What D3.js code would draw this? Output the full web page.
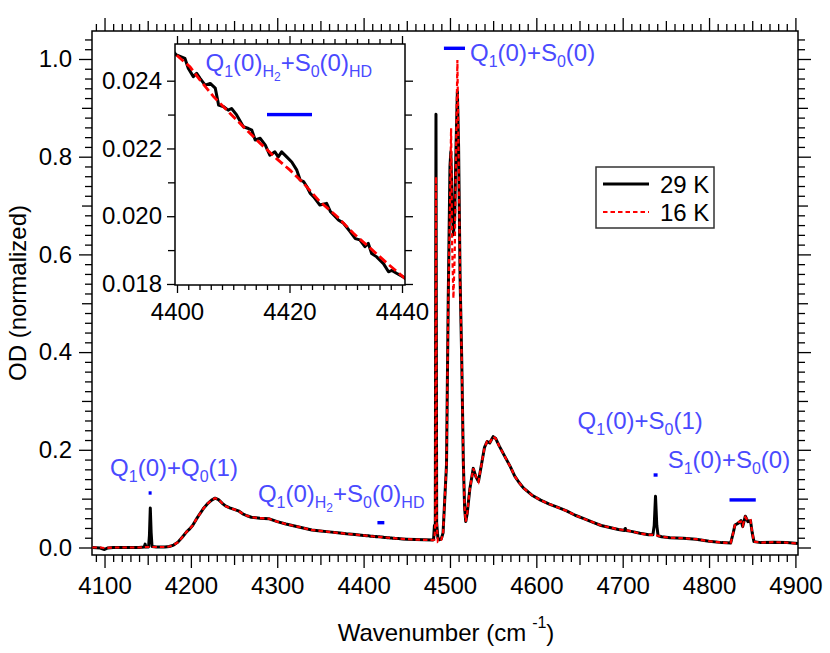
<!DOCTYPE html>
<html>
<head>
<meta charset="utf-8">
<script src="https://cdn.jsdelivr.net/npm/d3@7"></script>
<style>
	body { margin: 0; background: #fff; }
	text { font-family: "Liberation Sans", Arial, sans-serif; }
</style>
</head>
<body>
<svg id="chart" width="830" height="653"></svg>
<script>
//29 K spectrum (black)
var wn29 = [4086, 4095, 4100, 4104, 4110, 4120, 4130, 4140, 4146, 4147, 4148, 4151, 4152, 4153, 4154, 4155,
	4160, 4170, 4175, 4180, 4185, 4190, 4195, 4198, 4202, 4206, 4210, 4215, 4220, 4224, 4228, 4232, 4236,
	4240, 4245, 4250, 4255, 4260, 4265, 4270, 4280, 4290, 4295, 4300, 4310, 4320, 4330, 4340, 4350, 4360,
	4370, 4380, 4390, 4395,
	4399.9, 4401.4, 4402, 4402.9, 4403.5, 4404.1, 4405, 4405.9, 4406.8, 4407.4, 4408.3, 4409.1, 4409.7,
	4410.6, 4411.8, 4412.7, 4413.3, 4413.9, 4414.8, 4415.7, 4416.5, 4417.4, 4418, 4418.6, 4419.5, 4420.4,
	4421.3, 4421.9, 4422.5, 4423.1, 4423.7, 4424.3, 4425.4, 4426.6, 4427.3, 4428.7, 4429.6, 4430.8, 4431.7,
	4432.5, 4433.4, 4434, 4434.6, 4435.5, 4436.7, 4437.6, 4438.2, 4439.1, 4440.2,
	4445, 4450, 4460, 4470, 4480, 4481, 4482, 4483, 4483.8, 4484.6, 4486, 4488, 4490, 4492, 4494, 4496,
	4498, 4500, 4501, 4502.5, 4504, 4505.5, 4507, 4508.6, 4510, 4511.7, 4513.7, 4515.5, 4517, 4518.3,
	4520, 4523, 4527, 4530, 4533, 4537, 4540, 4543, 4546, 4550, 4553, 4557, 4563, 4570, 4575, 4580, 4585,
	4595, 4605, 4615, 4625, 4635, 4645, 4655, 4665, 4675, 4685, 4695, 4702, 4703, 4704, 4710, 4720, 4730,
	4735, 4736.5, 4738, 4739.5, 4741, 4745, 4755, 4770, 4785, 4800, 4815, 4825, 4828, 4830, 4834, 4837,
	4839, 4842, 4845, 4848, 4850, 4852, 4860, 4875, 4890, 4903];
var od29 = [0.000, -0.001, -0.004, -0.001, 0.000, 0.000, 0.000, 0.000, 0.001, 0.007, 0.001, 0.001, 0.025, 0.081, 0.030, 0.002,
	0.001, 0.001, 0.002, 0.005, 0.011, 0.021, 0.032, 0.037, 0.045, 0.057, 0.068, 0.081, 0.091, 0.097, 0.101, 0.098, 0.091,
	0.085, 0.081, 0.078, 0.075, 0.069, 0.065, 0.062, 0.060, 0.059, 0.056, 0.053, 0.048, 0.044, 0.040, 0.036, 0.034, 0.032,
	0.030, 0.028, 0.0264, 0.0256,
	0.02476, 0.02466, 0.02437, 0.02412, 0.02422, 0.02407, 0.02387, 0.02392, 0.02378, 0.02328, 0.02323, 0.02313, 0.02318,
	0.02299, 0.02264, 0.02259, 0.02254, 0.02225, 0.02230, 0.02210, 0.02180, 0.02190, 0.02175, 0.02190, 0.02175, 0.02160,
	0.02136, 0.02107, 0.02102, 0.02087, 0.02067, 0.02057, 0.02033, 0.02038, 0.02013, 0.01989, 0.01979, 0.01954, 0.01934,
	0.01930, 0.01910, 0.01920, 0.01890, 0.01880, 0.01860, 0.01836, 0.01840, 0.01831, 0.01821,
	0.0176, 0.0171, 0.0163, 0.0157, 0.0152, 0.016, 0.045, 0.030, 0.887, 0.050, 0.020, 0.016, 0.018, 0.030, 0.100, 0.170,
	0.510, 0.780, 0.810, 0.700, 0.640, 0.680, 0.820, 0.933, 0.820, 0.554, 0.377, 0.173, 0.080, 0.053,
	0.070, 0.120, 0.162, 0.145, 0.135, 0.175, 0.205, 0.217, 0.214, 0.227, 0.223, 0.208, 0.188, 0.165, 0.146, 0.133, 0.122,
	0.107, 0.097, 0.089, 0.082, 0.075, 0.066, 0.059, 0.052, 0.045, 0.041, 0.037, 0.035, 0.039, 0.035, 0.033, 0.029, 0.026,
	0.026, 0.045, 0.105, 0.045, 0.024, 0.022, 0.020, 0.019, 0.017, 0.013, 0.010, 0.009, 0.030, 0.046, 0.050, 0.055,
	0.043, 0.064, 0.053, 0.055, 0.030, 0.012, 0.010, 0.011, 0.010, 0.008];

//16 K spectrum (red)
var wn16 = [4086, 4095, 4100, 4110, 4120, 4130, 4140, 4150, 4155,
	4160, 4170, 4175, 4180, 4185, 4190, 4195, 4198, 4202, 4206, 4210, 4215, 4220, 4224, 4228, 4232, 4236,
	4240, 4245, 4250, 4255, 4260, 4265, 4270, 4280, 4290, 4295, 4300, 4310, 4320, 4330, 4340, 4350, 4360,
	4370, 4380, 4390, 4395,
	4399.9, 4402.3, 4404.1, 4406.5, 4409.4, 4412.4, 4414.8, 4417.7, 4420.1, 4422.5, 4425.4, 4428.4, 4431.4,
	4434.4, 4437.3, 4440.2,
	4445, 4450, 4460, 4470, 4480, 4482, 4483, 4483.8, 4484.6, 4486, 4488, 4490, 4492, 4494, 4496,
	4498, 4500, 4501.3, 4502.5, 4504, 4505.5, 4507, 4508.6, 4510, 4511.7, 4513.7, 4515.5, 4517, 4518.3,
	4520, 4523, 4527, 4530, 4533, 4537, 4540, 4543, 4546, 4550, 4553, 4557, 4563, 4570, 4575, 4580, 4585,
	4595, 4605, 4615, 4625, 4635, 4645, 4655, 4665, 4675, 4685, 4695, 4705, 4710, 4720, 4730,
	4735, 4738, 4741, 4745, 4755, 4770, 4785, 4800, 4815, 4825, 4828, 4830, 4834, 4837,
	4839, 4842, 4845, 4848, 4850, 4852, 4860, 4875, 4890, 4903];
var od16 = [0.000, 0.000, -0.001, 0.000, 0.000, 0.000, 0.000, 0.001, 0.001,
	0.001, 0.001, 0.002, 0.005, 0.011, 0.021, 0.032, 0.037, 0.045, 0.057, 0.068, 0.081, 0.091, 0.097, 0.101, 0.098, 0.091,
	0.085, 0.081, 0.078, 0.075, 0.069, 0.065, 0.062, 0.060, 0.059, 0.056, 0.053, 0.048, 0.044, 0.040, 0.036, 0.034, 0.032,
	0.030, 0.028, 0.0264, 0.0256,
	0.02476, 0.02441, 0.02402, 0.02353, 0.02304, 0.02254, 0.02215, 0.02170, 0.02136, 0.02097, 0.02043, 0.02000, 0.01949,
	0.01905, 0.01862, 0.01821,
	0.0176, 0.0171, 0.0163, 0.0157, 0.0152, 0.016, 0.050, 0.759, 0.050, 0.012, 0.014, 0.016, 0.028, 0.100, 0.170,
	0.500, 0.700, 0.858, 0.620, 0.510, 0.600, 0.800, 0.998, 0.800, 0.554, 0.377, 0.173, 0.080, 0.053,
	0.070, 0.120, 0.162, 0.145, 0.135, 0.175, 0.205, 0.217, 0.214, 0.227, 0.223, 0.208, 0.188, 0.165, 0.146, 0.133, 0.122,
	0.107, 0.097, 0.089, 0.082, 0.075, 0.066, 0.059, 0.052, 0.045, 0.041, 0.037, 0.035, 0.033, 0.029, 0.026,
	0.026, 0.025, 0.024, 0.022, 0.020, 0.019, 0.017, 0.013, 0.010, 0.009, 0.030, 0.046, 0.052, 0.053,
	0.045, 0.062, 0.055, 0.056, 0.030, 0.012, 0.010, 0.011, 0.010, 0.008];

var seriesNames = ['29 K', '16 K'];

//tick labels
var mainXTicks = [4100, 4200, 4300, 4400, 4500, 4600, 4700, 4800, 4900];
var mainYTicks = [0.0, 0.2, 0.4, 0.6, 0.8, 1.0];
var insetXTicks = [4400, 4420, 4440];
var insetYTicks = [0.018, 0.020, 0.022, 0.024];

//transition markers: [low wavenumber, high wavenumber, OD level]
var markerLo = [4152.2, 4416, 4493, 4735.8, 4823.7];
var markerHi = [4153.4, 4424, 4517.4, 4740.4, 4854.1];
var markerOd = [0.1116, 0.0508, 1.0219, 0.1484, 0.0974];
//label segments: [text, level] level 0 normal, 1 subscript, 2 sub-subscript
var markerLabels = [
	[['Q', 0], ['1', 1], ['(0)+Q', 0], ['0', 1], ['(1)', 0]],
	[['Q', 0], ['1', 1], ['(0)', 0], ['H', 1], ['2', 2], ['+S', 0], ['0', 1], ['(0)', 0], ['HD', 1]],
	[['Q', 0], ['1', 1], ['(0)+S', 0], ['0', 1], ['(0)', 0]],
	[['Q', 0], ['1', 1], ['(0)+S', 0], ['0', 1], ['(1)', 0]],
	[['S', 0], ['1', 1], ['(0)+S', 0], ['0', 1], ['(0)', 0]]
];
var insetMarker = [4416, 4424, 0.0230];

var labelBlue = '#4a4aff';
var markBlue = '#0000ff';

var svg = d3.select('#chart');

//main plot area
var mL = 92, mR = 798, mT = 31, mB = 555;
var x = d3.scaleLinear().domain([4085.5, 4903]).range([mL, mR]);
var y = d3.scaleLinear().domain([-0.01535, 1.0573]).range([mB, mT]);

//inset area
var iL = 175, iR = 405, iT = 44, iB = 285;
var ix = d3.scaleLinear().domain([4399.644, 4440.533]).range([iL, iR]);
var iy = d3.scaleLinear().domain([0.01797, 0.025083]).range([iB, iT]);

var defs = svg.append('defs');
defs.append('clipPath').attr('id', 'mainClip')
	.append('rect').attr('x', mL).attr('y', mT).attr('width', mR - mL).attr('height', mB - mT);
defs.append('clipPath').attr('id', 'insetClip')
	.append('rect').attr('x', iL).attr('y', iT).attr('width', iR - iL).attr('height', iB - iT);

//draw tick set
function ticks(axisFn, scale, pos, vals, size, fmt, pad) {
	var g = svg.append('g')
		.attr('transform', pos)
		.call(axisFn(scale).tickValues(vals).tickSize(size).tickPadding(pad || 3)
			.tickFormat(fmt ? fmt : ''));
	g.select('.domain').remove();
	g.selectAll('line').attr('stroke', '#000').attr('stroke-width', 1.3);
	g.attr('font-size', 24).attr('font-family', '"Liberation Sans", Arial, sans-serif');
	g.selectAll('text').attr('fill', '#000');
	return g;
}

function notIn(list) {
	return function(v) { return !list.some(function(m) { return Math.abs(m - v) < 1e-6; }); };
}

//main axes
var xMed = d3.range(4150, 4900, 100);
var xMin = d3.range(4090, 4905, 10).filter(notIn(mainXTicks.concat(xMed)));
var yMed = [0.1, 0.3, 0.5, 0.7, 0.9];
var yMin = d3.range(0, 53).map(function(i) { return i * 0.02; }).filter(notIn(mainYTicks.concat(yMed)));

ticks(d3.axisBottom, x, `translate(0,${mB})`, mainXTicks, 13, d3.format('d'), 9);
ticks(d3.axisBottom, x, `translate(0,${mB})`, xMed, 10);
ticks(d3.axisBottom, x, `translate(0,${mB})`, xMin, 7);
ticks(d3.axisTop, x, `translate(0,${mT})`, mainXTicks, 13);
ticks(d3.axisTop, x, `translate(0,${mT})`, xMed, 10);
ticks(d3.axisTop, x, `translate(0,${mT})`, xMin, 7);
ticks(d3.axisLeft, y, `translate(${mL},0)`, mainYTicks, 13, d3.format('.1f'), 7);
ticks(d3.axisLeft, y, `translate(${mL},0)`, yMed, 10);
ticks(d3.axisLeft, y, `translate(${mL},0)`, yMin, 7);
ticks(d3.axisRight, y, `translate(${mR},0)`, mainYTicks, 13);
ticks(d3.axisRight, y, `translate(${mR},0)`, yMed, 10);
ticks(d3.axisRight, y, `translate(${mR},0)`, yMin, 7);

svg.append('rect').attr('x', mL).attr('y', mT).attr('width', mR - mL).attr('height', mB - mT)
	.attr('fill', 'none').attr('stroke', '#000').attr('stroke-width', 1.5);

//spectra
var d29 = wn29.map(function(w, i) { return [w, od29[i]]; });
var d16 = wn16.map(function(w, i) { return [w, od16[i]]; });

var mainLine = d3.line().x(function(d) { return x(d[0]); }).y(function(d) { return y(d[1]); });
var gMain = svg.append('g').attr('clip-path', 'url(#mainClip)');
gMain.append('path').datum(d29).attr('d', mainLine)
	.attr('fill', 'none').attr('stroke', '#000').attr('stroke-width', 3).attr('stroke-linejoin', 'round');
gMain.append('path').datum(d16).attr('d', mainLine)
	.attr('fill', 'none').attr('stroke', '#ff0000').attr('stroke-width', 2.2).attr('stroke-dasharray', '4.5,3');

//markers and labels in main plot
var labelOffsets = [[-40, -17], [-123, -21], [5, 13], [-78, -46], [-75, -32]];
function richText(px, py, segs) {
	var t = svg.append('text').attr('x', px).attr('y', py).attr('fill', labelBlue).style('font-size', '24px');
	var prev = 0;
	segs.forEach(function(s) {
		var off = [0, 6, 10][s[1]];
		var size = [24, 16, 12][s[1]];
		t.append('tspan').attr('dy', off - prev).style('font-size', size + 'px').text(s[0]);
		prev = off;
	});
}
markerLo.forEach(function(lo, i) {
	var x0 = x(lo), x1 = x(markerHi[i]);
	var w = Math.max(3, x1 - x0);
	var cx = (x0 + x1) / 2;
	var cy = y(markerOd[i]);
	svg.append('rect').attr('x', cx - w / 2).attr('y', cy - 1.7).attr('width', w).attr('height', 3.4)
		.attr('fill', markBlue);
	var anchorX = i === 2 ? x1 : cx;
	richText(anchorX + labelOffsets[i][0], cy + labelOffsets[i][1], markerLabels[i]);
});

//legend
var leg = svg.append('g').attr('transform', 'translate(596,167)');
leg.append('rect').attr('width', 118).attr('height', 61)
	.attr('fill', '#fff').attr('stroke', '#333').attr('stroke-width', 1.5);
leg.append('line').attr('x1', 7).attr('x2', 53).attr('y1', 17).attr('y2', 17)
	.attr('stroke', '#000').attr('stroke-width', 3);
leg.append('line').attr('x1', 7).attr('x2', 53).attr('y1', 45).attr('y2', 45)
	.attr('stroke', '#ff0000').attr('stroke-width', 2.2).attr('stroke-dasharray', '4.5,3');
leg.selectAll('text.lg').data(seriesNames).join('text')
	.attr('x', 64).attr('y', function(d, i) { return 26 + i * 28; })
	.style('font-size', '24px').text(function(d) { return d; });

//inset
svg.append('rect').attr('x', iL).attr('y', iT).attr('width', iR - iL).attr('height', iB - iT).attr('fill', '#fff');
var ixMin = d3.range(4402, 4440, 2).filter(notIn(insetXTicks));
var iyMin = [0.019, 0.021, 0.023];
ticks(d3.axisBottom, ix, `translate(0,${iB})`, insetXTicks, 8, d3.format('d'), 10);
ticks(d3.axisBottom, ix, `translate(0,${iB})`, ixMin, 5);
ticks(d3.axisTop, ix, `translate(0,${iT})`, insetXTicks, 8);
ticks(d3.axisTop, ix, `translate(0,${iT})`, ixMin, 5);
ticks(d3.axisLeft, iy, `translate(${iL},0)`, insetYTicks, 8, d3.format('.3f'), 5);
ticks(d3.axisLeft, iy, `translate(${iL},0)`, iyMin, 7);
ticks(d3.axisRight, iy, `translate(${iR},0)`, insetYTicks, 8);
ticks(d3.axisRight, iy, `translate(${iR},0)`, iyMin, 7);

var insetLine = d3.line().x(function(d) { return ix(d[0]); }).y(function(d) { return iy(d[1]); });
var gIn = svg.append('g').attr('clip-path', 'url(#insetClip)');
gIn.append('path').datum(d29).attr('d', insetLine)
	.attr('fill', 'none').attr('stroke', '#000').attr('stroke-width', 3).attr('stroke-linejoin', 'round');
gIn.append('path').datum(d16).attr('d', insetLine)
	.attr('fill', 'none').attr('stroke', '#ff0000').attr('stroke-width', 2.8).attr('stroke-dasharray', '9,4');
svg.append('rect').attr('x', iL).attr('y', iT).attr('width', iR - iL).attr('height', iB - iT)
	.attr('fill', 'none').attr('stroke', '#000').attr('stroke-width', 1.5);

//inset marker and label
var imx0 = ix(insetMarker[0]), imx1 = ix(insetMarker[1]), imy = iy(insetMarker[2]);
svg.append('rect').attr('x', imx0).attr('y', imy - 1.7).attr('width', imx1 - imx0).attr('height', 3.4)
	.attr('fill', markBlue);
richText((imx0 + imx1) / 2 - 84, imy - 44, markerLabels[1]);

//axis titles
var xt = svg.append('text').attr('x', (mL + mR) / 2 + 1).attr('y', 641)
	.attr('text-anchor', 'middle').style('font-size', '24px');
xt.append('tspan').text('Wavenumber (cm');
xt.append('tspan').attr('dx', 6).attr('dy', -13).style('font-size', '16px').text('-1');
xt.append('tspan').attr('dy', 13).text(')');

svg.append('text')
	.attr('transform', `translate(26,${(mT + mB) / 2}) rotate(-90)`)
	.attr('text-anchor', 'middle').style('font-size', '24px')
	.text('OD (normalized)');
</script>
</body>
</html>
